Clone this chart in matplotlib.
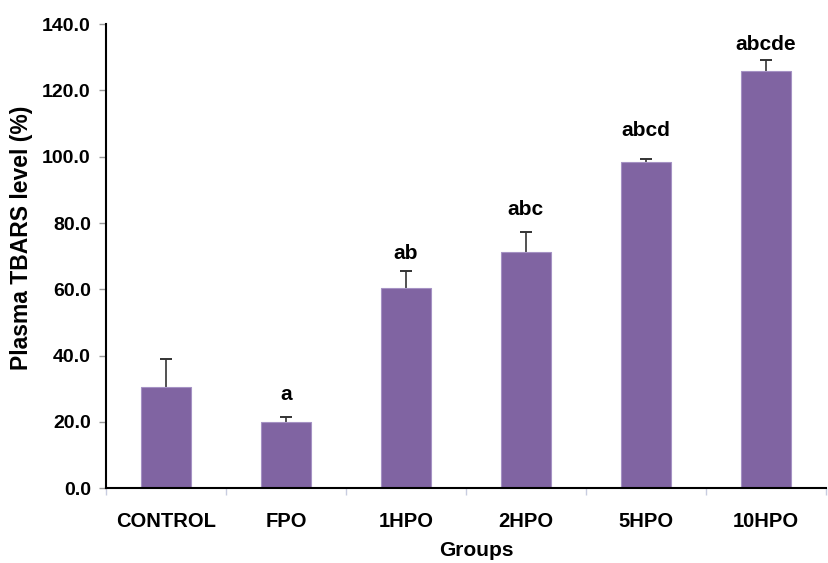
import matplotlib.pyplot as plt
import numpy as np

# Data
groups = ['CONTROL', 'FPO', '1HPO', '2HPO', '5HPO', '10HPO']
tbars = [30.5, 20.0, 60.4, 71.3, 98.4, 125.8]
tbars_err = [8.5, 1.6, 5.1, 6.0, 0.9, 3.5]
sig_letters = ['', 'a', 'ab', 'abc', 'abcd', 'abcde']
letter_y = [0, 28.4, 70.9, 84.0, 107.8, 134.0]

plt.rcParams['font.family'] = ['Liberation Sans', 'DejaVu Sans']

fig = plt.figure(figsize=(8.29, 5.63), dpi=100)
ax = fig.add_axes([0.128, 0.133, 0.868, 0.824])

X = np.arange(len(groups))
err_top = np.array(tbars) + np.array(tbars_err)

# upper-only error bars, cap only at the top
ax.errorbar(X, tbars, yerr=[np.zeros(len(tbars_err)), tbars_err], fmt='none',
            ecolor='#333333', elinewidth=1.2, capsize=0, zorder=1)
ax.plot(X, err_top, linestyle='none', marker='_', markersize=8,
        markeredgewidth=1.4, color='#333333', zorder=1)
ax.bar(X, tbars, width=0.42, color='#8064A2', edgecolor='#A592C4', linewidth=0.8, zorder=2)

for i in range(len(groups)):
    if sig_letters[i]:
        ax.text(X[i], letter_y[i], sig_letters[i], ha='center', va='center',
                fontsize=15, fontweight='bold')

ax.set_xlim(-0.5, len(groups) - 0.5)
ax.set_ylim(0, 140)
ax.set_yticks(np.arange(0, 141, 20))
ax.set_yticklabels(['%.1f' % v for v in np.arange(0, 141, 20)], fontsize=14, fontweight='bold')
ax.set_xticks(X)
ax.set_xticklabels(groups, fontsize=14.5, fontweight='bold')
ax.set_xticks(np.arange(-0.5, len(groups), 1), minor=True)
ax.tick_params(axis='x', which='major', length=0, pad=17)
ax.tick_params(axis='x', which='minor', length=5, color='#C8CCE0', width=1)
ax.tick_params(axis='y', length=5, color='#999999', width=1, pad=6)

for s in ['top', 'right']:
    ax.spines[s].set_visible(False)
ax.spines['left'].set_linewidth(1.5)
ax.spines['bottom'].set_linewidth(1.5)

ax.set_ylabel('Plasma TBARS level (%)', fontsize=16.5, fontweight='bold')
ax.yaxis.set_label_coords(-0.102, 0.54)
ax.set_xlabel('Groups', fontsize=15, fontweight='bold')
ax.xaxis.set_label_coords(0.514, -0.115)

fig.savefig('out.png', dpi=100)
